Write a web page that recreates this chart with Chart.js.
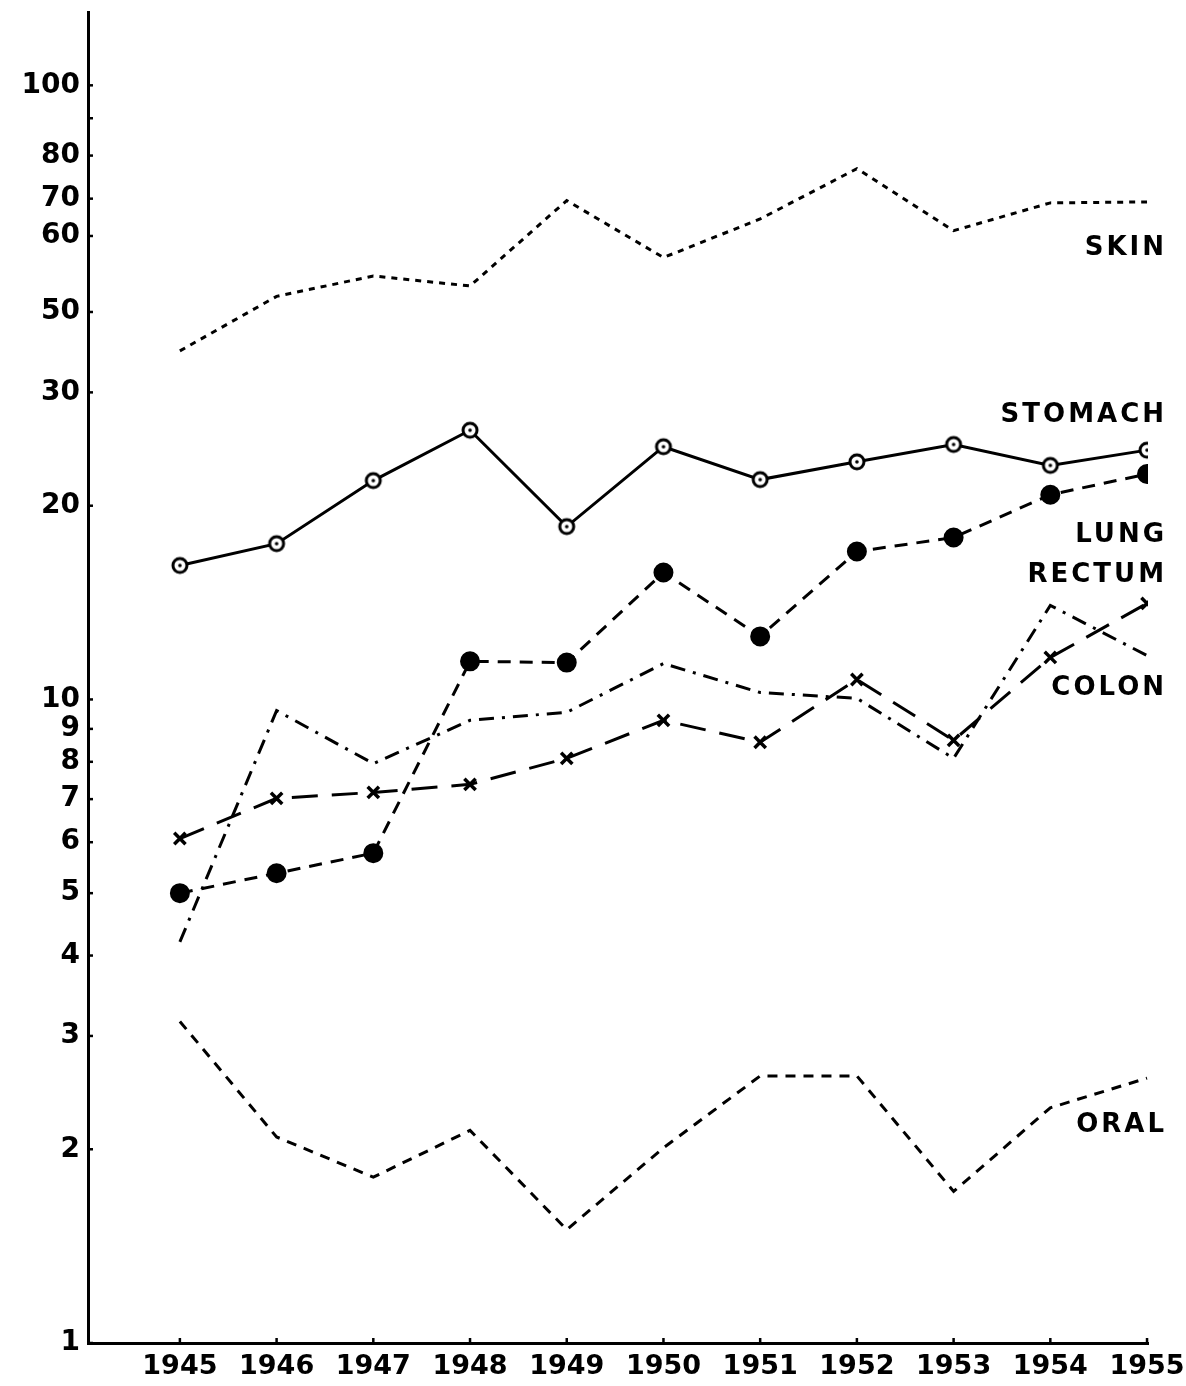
<!DOCTYPE html>
<html>
<head>
<meta charset="utf-8">
<script src="https://cdn.jsdelivr.net/npm/chart.js@4/dist/chart.umd.min.js"></script>
<style>
  body { margin: 0; background: #fff; }
  #wrap { width: 1186px; height: 1386px; }
</style>
</head>
<body>
<div id="wrap"><canvas id="myChart" width="1186" height="1386"></canvas></div>
<script>
const years = [1945, 1946, 1947, 1948, 1949, 1950, 1951, 1952, 1953, 1954, 1955];

const skin    = [34.8, 42.3, 45.5, 43.9, 59.6, 48.6, 55.8, 66.8, 53.5, 59.1, 59.3];
const stomach = [16.15, 17.46, 21.88, 26.2, 18.56, 24.7, 21.96, 23.4, 24.9, 23.1, 24.4];
const lung    = [5.0, 5.37, 5.77, 11.46, 11.41, 15.75, 12.53, 16.98, 17.85, 20.8, 22.4];
const rectum  = [6.08, 7.02, 7.17, 7.38, 8.1, 9.28, 8.58, 10.74, 8.64, 11.62, 14.1];
const colon   = [4.2, 9.61, 7.95, 9.28, 9.55, 11.37, 10.25, 10.04, 8.1, 14.0, 11.7];
const oral    = [3.16, 2.09, 1.81, 2.14, 1.50, 2.01, 2.60, 2.60, 1.72, 2.32, 2.58];

// tick positions as drawn on the original axis, with the labels printed beside them
const tickValues = [1, 2, 3, 4, 5, 6, 7, 8, 9, 10, 20, 30, 40, 52.5, 60, 70, 80, 90];
const tickLabels = ['1', '2', '3', '4', '5', '6', '7', '8', '9', '10', '20', '30', '50', '60', '70', '80', '', '100'];

const seriesNames = ['SKIN', 'STOMACH', 'LUNG', 'RECTUM', 'COLON', 'ORAL'];

const FONT = '"DejaVu Sans", sans-serif';

function ringDot() {
    const c = document.createElement('canvas');
    c.width = 20; c.height = 20;
    const g = c.getContext('2d');
    g.lineWidth = 3;
    g.strokeStyle = '#000';
    g.fillStyle = '#fff';
    g.beginPath(); g.arc(10, 10, 7, 0, Math.PI * 2); g.fill(); g.stroke();
    g.fillStyle = '#000';
    g.beginPath(); g.arc(10, 10, 1.8, 0, Math.PI * 2); g.fill();
    return c;
}

const toXY = arr => arr.map((v, i) => ({ x: years[i], y: v }));

const base = {
    borderColor: '#000',
    backgroundColor: '#000',
    borderWidth: 3,
    pointRadius: 0,
    tension: 0,
    fill: false
};

// small nubs on the inner side of both axes
const tickNubs = {
    id: 'tickNubs',
    afterDraw(chart) {
        const ctx = chart.ctx;
        const { x, y } = chart.scales;
        const area = chart.chartArea;
        ctx.save();
        ctx.strokeStyle = '#000';
        ctx.lineWidth = 2.5;
        y.ticks.forEach(t => {
            const py = y.getPixelForValue(t.value);
            ctx.beginPath(); ctx.moveTo(area.left, py); ctx.lineTo(area.left + 5, py); ctx.stroke();
        });
        x.ticks.forEach(t => {
            const px = x.getPixelForValue(t.value);
            ctx.beginPath(); ctx.moveTo(px, area.bottom); ctx.lineTo(px, area.bottom - 5); ctx.stroke();
        });
        ctx.restore();
    }
};

// series names written at the right-hand end of the lines
const seriesText = {
    id: 'seriesText',
    afterDraw(chart) {
        const ctx = chart.ctx;
        const right = chart.width - 19;
        const rows = [248, 415, 535, 575, 688, 1125];
        ctx.save();
        ctx.fillStyle = '#000';
        ctx.font = 'bold 26px ' + FONT;
        ctx.letterSpacing = '3px';
        ctx.textAlign = 'right';
        ctx.textBaseline = 'middle';
        seriesNames.forEach((name, i) => ctx.fillText(name, right, rows[i]));
        ctx.restore();
    }
};

new Chart(document.getElementById('myChart').getContext('2d'), {
    type: 'line',
    data: {
        datasets: [
            { ...base, label: 'Skin', data: toXY(skin), borderDash: [6, 6] },
            { ...base, label: 'Stomach', data: toXY(stomach),
              pointRadius: 8, pointStyle: ringDot() },
            { ...base, label: 'Lung', data: toXY(lung), borderDash: [13, 9],
              pointRadius: 8.5, pointStyle: 'circle' },
            { ...base, label: 'Rectum', data: toXY(rectum), borderDash: [26, 14],
              pointRadius: 8, pointStyle: 'crossRot', pointBorderWidth: 3.5 },
            { ...base, label: 'Colon', data: toXY(colon), borderDash: [15, 8, 3, 8] },
            { ...base, label: 'Oral', data: toXY(oral), borderDash: [10, 8] }
        ]
    },
    options: {
        responsive: false,
        animation: false,
        layout: { padding: { top: 12, right: 38, left: 0, bottom: 0 } },
        plugins: {
            legend: { display: false },
            tooltip: { enabled: false }
        },
        scales: {
            x: {
                type: 'linear',
                min: 1944.05,
                max: 1955.01,
                afterFit(scale) {
                    scale.height = 43;
                    scale.paddingLeft = 0;
                    scale.paddingRight = 0;
                },
                afterBuildTicks(scale) { scale.ticks = years.map(v => ({ value: v })); },
                grid: { display: false, drawTicks: false },
                border: { color: '#000', width: 3 },
                ticks: {
                    autoSkip: false,
                    maxRotation: 0,
                    padding: 8,
                    color: '#000',
                    font: { family: FONT, size: 27, weight: 'bold' },
                    callback: v => String(v)
                }
            },
            y: {
                type: 'logarithmic',
                min: 1,
                max: 117,
                afterFit(scale) {
                    scale.width = 88;
                    scale.paddingTop = 0;
                    scale.paddingBottom = 0;
                },
                afterBuildTicks(scale) { scale.ticks = tickValues.map(v => ({ value: v })); },
                grid: { display: false, drawTicks: false },
                border: { color: '#000', width: 3 },
                ticks: {
                    autoSkip: false,
                    padding: 8,
                    color: '#000',
                    font: { family: FONT, size: 28, weight: 'bold' },
                    callback: (v, i) => tickLabels[i]
                }
            }
        }
    },
    plugins: [tickNubs, seriesText]
});
</script>
</body>
</html>
